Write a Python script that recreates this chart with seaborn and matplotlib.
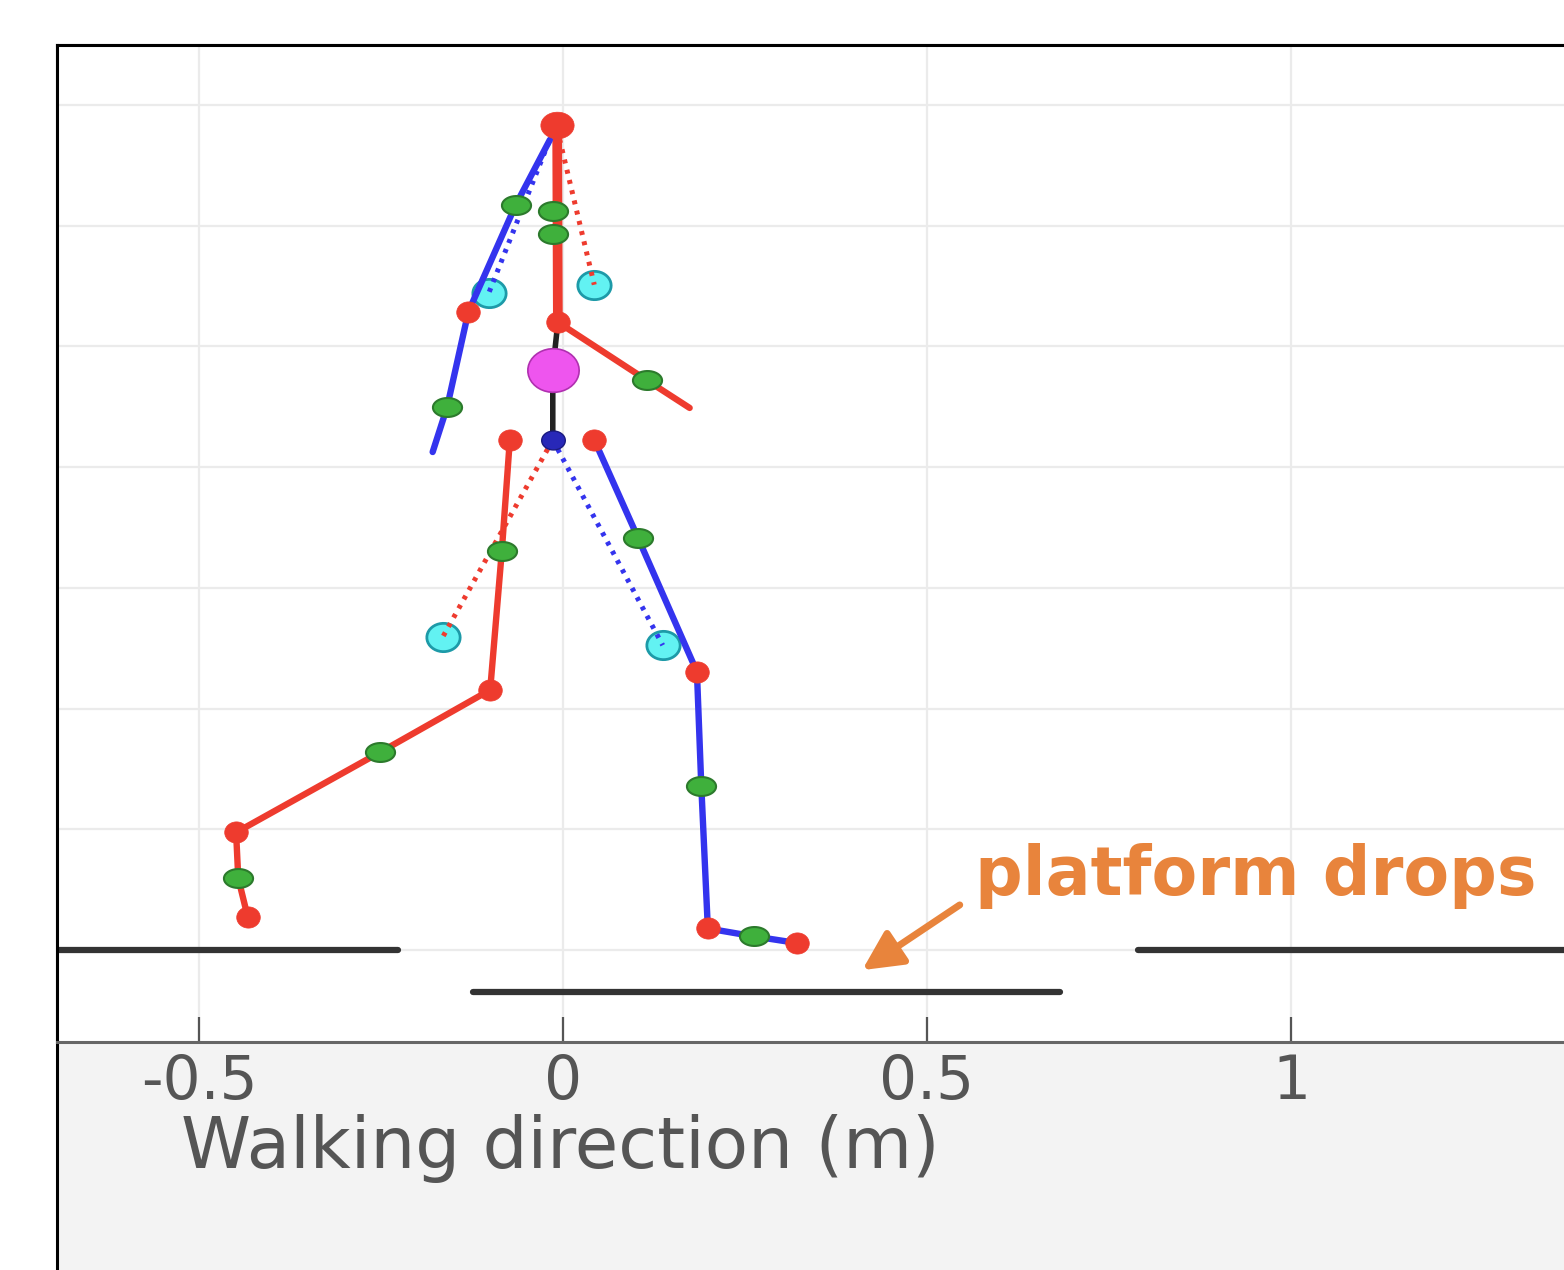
import numpy as np
import matplotlib
matplotlib.use("Agg")
import matplotlib.pyplot as plt
from matplotlib.path import Path
from matplotlib.patches import Rectangle
import seaborn as sns

# skeleton joints, walking direction (m) vs height (m)
spine_x = [-0.008, -0.007]
spine_y = [1.367, 1.040]
torso_x = [-0.007, -0.014, -0.014]
torso_y = [1.040, 0.961, 0.845]

blue_arm_x = [-0.018, -0.065, -0.130, -0.159, -0.179]
blue_arm_y = [1.342, 1.234, 1.057, 0.900, 0.825]
red_arm_x = [-0.007, 0.115, 0.174]
red_arm_y = [1.040, 0.944, 0.898]

red_leg_x = [-0.073, -0.084, -0.100, -0.251, -0.449, -0.446, -0.433]
red_leg_y = [0.845, 0.661, 0.431, 0.328, 0.195, 0.119, 0.055]
blue_leg_x = [0.043, 0.103, 0.184, 0.190, 0.199, 0.262, 0.321]
blue_leg_y = [0.845, 0.683, 0.461, 0.272, 0.036, 0.023, 0.012]

# dotted links to the estimated points
blue_arm_dot_x = [-0.014, -0.102]
blue_arm_dot_y = [1.355, 1.088]
red_arm_dot_x = [-0.008, 0.043]
red_arm_dot_y = [1.360, 1.102]
red_leg_dot_x = [-0.014, -0.165]
red_leg_dot_y = [0.845, 0.519]
blue_leg_dot_x = [-0.014, 0.137]
blue_leg_dot_y = [0.845, 0.505]

red_joint_x = [-0.007, -0.130, -0.073, -0.100, -0.449, -0.433, 0.043, 0.184, 0.199, 0.321]
red_joint_y = [1.040, 1.057, 0.845, 0.431, 0.195, 0.055, 0.845, 0.461, 0.036, 0.012]
green_joint_x = [-0.014, -0.014, -0.065, -0.159, 0.115, -0.084, -0.251, -0.446, 0.103, 0.190, 0.262]
green_joint_y = [1.224, 1.186, 1.234, 0.900, 0.944, 0.661, 0.328, 0.119, 0.683, 0.272, 0.023]
cyan_x = [-0.102, 0.043, -0.165, 0.137]
cyan_y = [1.088, 1.102, 0.519, 0.505]
head_x, head_y = [-0.008], [1.367]
com_x, com_y = [-0.014], [0.961]
pelvis_x, pelvis_y = [-0.014], [0.845]

# platforms
platform_x = [[-0.70, -0.227], [-0.124, 0.683], [0.790, 1.40]]
platform_y = [[0.0, 0.0], [-0.070, -0.070], [0.0, 0.0]]

xticks = [-0.5, 0, 0.5, 1]
xticklabels = ["-0.5", "0", "0.5", "1"]
yticks = [0, 0.2, 0.4, 0.6, 0.8, 1.0, 1.2, 1.4]

RED = "#ee3b2e"
BLUE = "#3434ee"
GREEN = "#3fb03c"
ORANGE = "#e8843c"


def ellipse(aspect):
    t = np.linspace(0, 2 * np.pi, 40)
    return Path(np.column_stack([np.cos(t), aspect * np.sin(t)]), closed=True)


sns.set_theme(style="whitegrid")
plt.rcParams["font.family"] = ["DejaVu Sans"]

fig = plt.figure(figsize=(15.64, 12.70), dpi=100, facecolor="white")
fig.patches.append(Rectangle((57 / 1564, -0.01), 1.0, 1 - 45 / 1270 + 0.01,
                             transform=fig.transFigure, facecolor="#f3f3f3",
                             edgecolor="black", linewidth=2.2, zorder=-1))
ax = fig.add_axes([57 / 1564, (1270 - 1042) / 1270, 1 - 57 / 1564, (1042 - 45) / 1270])
ax.set_facecolor("white")

def seg(x, y, color, lw, ls="-", z=4):
    sns.lineplot(x=x, y=y, ax=ax, sort=False, estimator=None, color=color,
                 linewidth=lw, linestyle=ls, zorder=z, legend=False)

dots = (0, (0.8, 1.3))
seg(blue_arm_dot_x, blue_arm_dot_y, BLUE, 3.6, dots)
seg(red_arm_dot_x, red_arm_dot_y, RED, 3.6, dots)
seg(red_leg_dot_x, red_leg_dot_y, RED, 3.6, dots)
seg(blue_leg_dot_x, blue_leg_dot_y, BLUE, 3.6, dots)

sns.scatterplot(x=cyan_x, y=cyan_y, ax=ax, marker=ellipse(0.85), s=24 ** 2,
                color="#62f2f2", edgecolor="#1d9aa8", linewidth=2, zorder=3)

seg(spine_x, spine_y, RED, 7)
seg(torso_x, torso_y, "#222222", 4)
seg(blue_arm_x, blue_arm_y, BLUE, 4.6)
seg(red_arm_x, red_arm_y, RED, 4.6)
seg(red_leg_x, red_leg_y, RED, 4.6)
seg(blue_leg_x, blue_leg_y, BLUE, 4.6)

for px, py in zip(platform_x, platform_y):
    seg(px, py, "#333333", 4.5, z=2)

sns.scatterplot(x=red_joint_x, y=red_joint_y, ax=ax, marker=ellipse(0.9), s=17 ** 2,
                color=RED, edgecolor=RED, linewidth=0.5, zorder=5)
sns.scatterplot(x=green_joint_x, y=green_joint_y, ax=ax, marker=ellipse(0.65), s=21 ** 2,
                color=GREEN, edgecolor="#2c7a2c", linewidth=1.5, zorder=6)
sns.scatterplot(x=head_x, y=head_y, ax=ax, marker=ellipse(0.8), s=24 ** 2,
                color=RED, edgecolor=RED, linewidth=0.5, zorder=5)
sns.scatterplot(x=com_x, y=com_y, ax=ax, marker=ellipse(0.85), s=37 ** 2,
                color="#ee55ee", edgecolor="#b030b0", linewidth=1.2, zorder=5)
sns.scatterplot(x=pelvis_x, y=pelvis_y, ax=ax, marker=ellipse(0.8), s=17 ** 2,
                color="#2828b8", edgecolor="#1a1a80", linewidth=1, zorder=5)

ax.text(0.566, 0.091, "platform drops", color=ORANGE, fontsize=48,
        fontweight="bold", ha="left", va="baseline", zorder=7)
ax.annotate("", xy=(0.411, -0.033), xytext=(0.545, 0.075),
            arrowprops=dict(arrowstyle="-|>", color=ORANGE, lw=5,
                            mutation_scale=60, shrinkA=0, shrinkB=0), zorder=7)

ax.set_xlim(-0.695, 1.375)
ax.set_ylim(-0.152, 1.499)
ax.set_xticks(xticks)
ax.set_xticklabels(xticklabels)
ax.set_yticks(yticks)
ax.set_yticklabels([])
ax.grid(True, color="#ebebeb", linewidth=1.6)
ax.tick_params(axis="x", direction="in", length=18, width=1.6, color="#555555",
               labelsize=43, labelcolor="#555555", pad=8, bottom=True)
ax.tick_params(axis="y", length=0)
ax.set_xlabel("Walking direction (m)", fontsize=51, color="#555555")
ax.xaxis.set_label_coords((560 - 57) / (1564 - 57), -0.072)

ax.spines["right"].set_visible(False)
ax.spines["left"].set_color("black")
ax.spines["left"].set_linewidth(2.2)
ax.spines["top"].set_color("black")
ax.spines["top"].set_linewidth(2.2)
ax.spines["bottom"].set_color("#666666")
ax.spines["bottom"].set_linewidth(2.2)

fig.savefig("out.png", dpi=100, facecolor=fig.get_facecolor())
